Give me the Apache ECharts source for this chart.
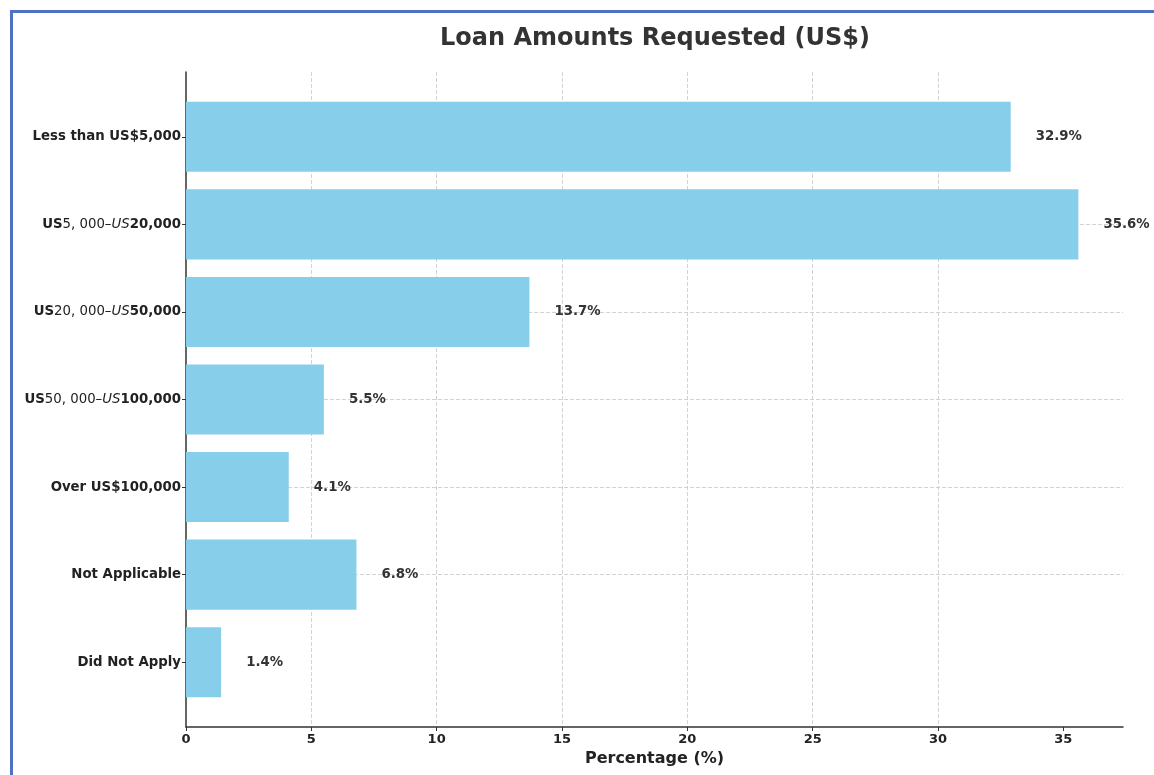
<!DOCTYPE html>
<html>
<head>
<meta charset="utf-8">
<script src="https://cdn.jsdelivr.net/npm/echarts@6/dist/echarts.min.js"></script>
<style>
  html, body { margin: 0; padding: 0; background: #fff; }
  #wrap { position: relative; width: 1154px; height: 775px; overflow: hidden; }
  #chart { position: absolute; left: 0; top: 0; width: 1154px; height: 775px; }
  #frame {
    position: absolute; left: 10px; top: 10px; width: 1200px; height: 800px;
    border-left: 3px solid #5070c2; border-top: 3px solid #5070c2;
    pointer-events: none;
  }
</style>
</head>
<body>
<div id="wrap">
  <div id="chart"></div>
  <div id="frame"></div>
</div>
<script>
// Loan size categories, top to bottom
const categories = [
  'Less than US$5,000',
  'US$5,000–US$20,000',
  'US$20,000–US$50,000',
  'US$50,000–US$100,000',
  'Over US$100,000',
  'Not Applicable',
  'Did Not Apply'
];
// Share of respondents (%)
const percentages = [32.9, 35.6, 13.7, 5.5, 4.1, 6.8, 1.4];
// Axis ticks
const xTicks = [0, 5, 10, 15, 20, 25, 30, 35];
const yTicks = [0, 1, 2, 3, 4, 5, 6];

const FONT = 'DejaVu Sans';
const xMax = Math.max(...percentages) * 1.05;
const yPad = 0.4 + 0.05 * (categories.length - 1 + 0.8);

// Range labels like "US$5,000–US$20,000" are typeset math-style:
// bold "US", upright "5, 000–", italic "US", bold upper bound.
function categoryLabel(idx) {
  const name = categories[idx];
  if (name === undefined) return '';
  const m = name.match(/^US\$([\d,]+)–US\$([\d,]+)$/);
  if (!m) return '{b|' + name + '}';
  return '{b|US}{m|' + m[1].replace(/,/g, ', ') + '–}{i|US}{b|' + m[2] + '}';
}

const chart = echarts.init(document.getElementById('chart'), null, { renderer: 'canvas' });

const gridLine = { show: true, lineStyle: { color: '#c8c8c8', type: [4, 2], width: 0.8 } };
const LABEL_SIZE = 13.3;

chart.setOption({
  animation: false,
  backgroundColor: '#ffffff',
  title: {
    text: 'Loan Amounts Requested (US$)',
    left: 650,
    top: 22,
    textAlign: 'center',
    textStyle: { fontFamily: FONT, fontWeight: 'bold', fontSize: 24, color: '#333333' }
  },
  grid: { left: 186, right: 31, top: 72, bottom: 48, containLabel: false },
  xAxis: {
    type: 'value',
    min: 0,
    max: xMax,
    interval: 5,
    name: 'Percentage (%)',
    nameLocation: 'middle',
    nameGap: 23,
    nameTextStyle: { fontFamily: FONT, fontWeight: 'bold', fontSize: 16, color: '#222222' },
    axisLine: { show: true, onZero: false, lineStyle: { color: '#333333', width: 1.5 } },
    axisTick: { show: true, length: 4, customValues: xTicks, lineStyle: { color: '#333333', width: 1 } },
    axisLabel: {
      customValues: xTicks,
      margin: 6,
      fontFamily: FONT, fontWeight: 'bold', fontSize: 13, color: '#222222'
    },
    splitLine: Object.assign({ showMaxLine: false, showMinLine: false }, gridLine)
  },
  yAxis: {
    type: 'value',
    inverse: true,
    min: -yPad,
    max: categories.length - 1 + yPad,
    axisLine: { show: true, onZero: false, lineStyle: { color: '#333333', width: 1.5 } },
    axisTick: { show: true, length: 4, customValues: yTicks, lineStyle: { color: '#333333', width: 1 } },
    axisLabel: {
      customValues: yTicks,
      margin: 5,
      formatter: (v) => categoryLabel(Math.round(v)),
      rich: {
        b: { fontFamily: FONT, fontWeight: 'bold', fontSize: LABEL_SIZE, color: '#222222' },
        m: { fontFamily: FONT, fontWeight: 'normal', fontSize: LABEL_SIZE, color: '#222222' },
        i: { fontFamily: FONT, fontWeight: 'normal', fontStyle: 'italic', fontSize: LABEL_SIZE, color: '#222222' }
      }
    },
    splitLine: Object.assign({ showMaxLine: false, showMinLine: false }, gridLine)
  },
  series: [{
    type: 'custom',
    coordinateSystem: 'cartesian2d',
    encode: { x: 0, y: 1 },
    data: percentages.map((v, i) => [v, i]),
    renderItem: function (params, api) {
      const v = api.value(0);
      const idx = api.value(1);
      const a = api.coord([0, idx - 0.4]);
      const b = api.coord([v, idx + 0.4]);
      const lab = api.coord([v + 1, idx]);
      return {
        type: 'group',
        children: [
          {
            type: 'rect',
            shape: { x: a[0], y: Math.min(a[1], b[1]), width: b[0] - a[0], height: Math.abs(b[1] - a[1]) },
            style: { fill: '#87ceeb' }
          },
          {
            type: 'text',
            x: lab[0],
            y: lab[1],
            style: {
              text: v.toFixed(1) + '%',
              fontFamily: FONT, fontWeight: 'bold', fontSize: LABEL_SIZE,
              fill: '#333333', align: 'left', verticalAlign: 'middle'
            }
          }
        ]
      };
    }
  }]
});
</script>
</body>
</html>
